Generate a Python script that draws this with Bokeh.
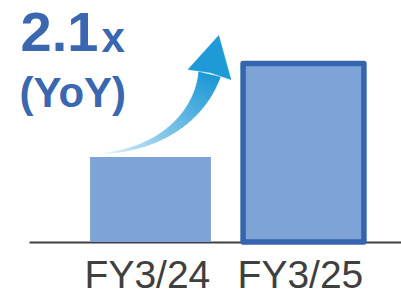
import numpy as np
from bokeh.plotting import figure
from bokeh.models import Range1d
from bokeh.core.properties import value
from bokeh.embed import file_html
from bokeh.resources import INLINE

# ---- data ----
categories = ["FY3/24", "FY3/25"]
values = [1.0, 2.1]
growth_text = "2.1"
growth_unit = "x"
growth_note = "(YoY)"

# ---- layout helpers (pixel <-> data for decorations) ----
W, H = 401, 292
OFF = 0                          # page offset of the plot's top-left corner
PX_X, PX_Y = 153.0, 85.0         # pixels per data unit
X0_PX, Y0_PX = 150.0, 241.5      # page px of x=0 / y=0
BL = 0.39                        # baseline correction (fraction of font size)


def dx(px):
    return (px - X0_PX) / PX_X


def dy(py):
    return (Y0_PX - py) / PX_Y


p = figure(width=W, height=H, output_backend="svg", toolbar_location=None,
           x_range=Range1d(dx(OFF), dx(OFF + W)), y_range=Range1d(dy(OFF + H), dy(OFF)),
           min_border=0, min_border_left=0, min_border_right=0,
           min_border_top=0, min_border_bottom=0)
p.axis.visible = False
p.grid.visible = False
p.outline_line_color = None
p.background_fill_color = "white"
p.border_fill_color = "white"

xs = list(range(len(categories)))

# baseline
p.segment(x0=[dx(29)], y0=[-0.006], x1=[dx(401)], y1=[-0.006],
          line_color="#404040", line_width=2.2)

# bars
p.vbar(x=xs, top=values, width=0.79, bottom=0,
       fill_color="#7ea3d7", line_color="#3565ae", line_join="round",
       line_width=[0, 5.5], line_alpha=[0, 1])

# category labels
p.text(x=[x - 0.02 for x in xs], y=[dy(289 - BL * 39)] * len(xs), text=categories,
       text_font=value("Liberation Sans"), text_font_size="39px",
       text_color="#3f3f3f", text_align="center", text_baseline="alphabetic")

# growth annotation
p.text(x=[dx(20)], y=[dy(53 - BL * 56)], text=[growth_text],
       text_font=value("Liberation Sans"), text_font_style="bold",
       text_font_size="56px", text_color="#3a67b0",
       text_align="left", text_baseline="alphabetic")
p.text(x=[dx(101)], y=[dy(53 - BL * 42)], text=[growth_unit],
       text_font=value("Liberation Sans"), text_font_style="bold",
       text_font_size="42px", text_color="#3a67b0",
       text_align="left", text_baseline="alphabetic")
p.text(x=[dx(19)], y=[dy(108 - BL * 42)], text=[growth_note],
       text_font=value("Liberation Sans"), text_font_style="bold",
       text_font_size="42px", text_color="#3a67b0",
       text_align="left", text_baseline="alphabetic")

# curved gradient arrow (decoration), built in page pixels
n = 60
t = np.linspace(0, 1, n)
P0 = np.array([104.0, 153.0]); P1 = np.array([165.0, 147.0])
P2 = np.array([200.0, 112.0]); P3 = np.array([209.0, 74.0])
B = (((1 - t) ** 3)[:, None] * P0 + (3 * (1 - t) ** 2 * t)[:, None] * P1
     + (3 * (1 - t) * t ** 2)[:, None] * P2 + (t ** 3)[:, None] * P3)
D = ((3 * (1 - t) ** 2)[:, None] * (P1 - P0) + (6 * (1 - t) * t)[:, None] * (P2 - P1)
     + (3 * t ** 2)[:, None] * (P3 - P2))
D = D / np.linalg.norm(D, axis=1)[:, None]
N = np.stack([-D[:, 1], D[:, 0]], axis=1)
hw = (1.0 + 21.0 * t ** 1.4) / 2
L = B + N * hw[:, None]
R = B - N * hw[:, None]
c0 = np.array([245, 250, 253]); c1 = np.array([24, 150, 214])
pxs, pys, cols = [], [], []
for i in range(n - 1):
    quad = [L[i], L[i + 1], R[i + 1], R[i]]
    pxs.append([dx(q[0]) for q in quad])
    pys.append([dy(q[1]) for q in quad])
    f = ((t[i] + t[i + 1]) / 2) ** 0.7
    c = (c0 + (c1 - c0) * f).astype(int)
    cols.append("#%02x%02x%02x" % tuple(c))
p.patches(xs=pxs, ys=pys, fill_color=cols, line_color=cols, line_width=0.6)

d_end = D[-1]; n_end = N[-1]
tip = P3 + d_end * 40
cA = P3 + n_end * 22
cB = P3 - n_end * 22
p.patch(x=[dx(tip[0]), dx(cA[0]), dx(P3[0] + d_end[0] * 2), dx(cB[0])],
        y=[dy(tip[1]), dy(cA[1]), dy(P3[1] + d_end[1] * 2), dy(cB[1])],
        fill_color="#1e9bd7", line_color="#1e9bd7", line_width=0.6)

open("out.html", "w").write(file_html(p, INLINE))
